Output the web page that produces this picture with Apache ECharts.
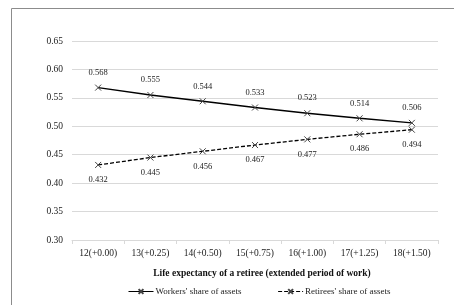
<!DOCTYPE html>
<html>
<head>
<meta charset="utf-8">
<script src="https://cdn.jsdelivr.net/npm/echarts@6/dist/echarts.min.js"></script>
<style>
  html, body { margin: 0; padding: 0; background: #fff; }
  #main { width: 454px; height: 305px; }
</style>
</head>
<body>
<div id="main"></div>
<script>
var categories = ['12(+0.00)', '13(+0.25)', '14(+0.50)', '15(+0.75)', '16(+1.00)', '17(+1.25)', '18(+1.50)'];
var workers = [0.568, 0.555, 0.544, 0.533, 0.523, 0.514, 0.506];
var retirees = [0.432, 0.445, 0.456, 0.467, 0.477, 0.486, 0.494];

var font = 'Liberation Serif';
var cross = 'path://M0,0L10,10M10,0L0,10';

var chartDom = document.getElementById('main');
var myChart = echarts.init(chartDom);

var option = {
  animation: false,
  textStyle: { fontFamily: font },
  graphic: [
    {
      type: 'polyline',
      shape: { points: [[11.5, 310], [11.5, 8.5], [460, 8.5]] },
      style: { fill: 'none', stroke: '#8c8c8c', lineWidth: 1 },
      silent: true
    }
  ],
  grid: { left: 72, right: 16, top: 41, bottom: 65 },
  legend: {
    top: 282,
    left: 123,
    itemGap: 36,
    itemWidth: 25,
    itemHeight: 6,
    lineStyle: { width: 1 },
    textStyle: { fontFamily: font, fontSize: 9, color: '#222', padding: [0, 0, 0, -3] },
    data: ["Workers' share of assets", "Retirees' share of assets"]
  },
  xAxis: {
    type: 'category',
    data: categories,
    name: 'Life expectancy of a retiree (extended period of work)',
    nameLocation: 'middle',
    nameGap: 29,
    nameTextStyle: { fontFamily: font, fontSize: 9.5, fontWeight: 'bold', color: '#111', padding: [0, 0, 0, 14] },
    axisLine: { lineStyle: { color: '#d9d9d9' } },
    axisTick: { show: true, length: 4, lineStyle: { color: '#d9d9d9' } },
    axisLabel: { interval: 0, fontFamily: font, fontSize: 9.5, color: '#222', margin: 8 }
  },
  yAxis: {
    type: 'value',
    min: 0.30,
    max: 0.65,
    interval: 0.05,
    axisLine: { show: false },
    axisTick: { show: false },
    axisLabel: {
      fontFamily: font, fontSize: 9.5, color: '#222', margin: 9,
      formatter: function (v) { return v.toFixed(2); }
    },
    splitLine: { lineStyle: { color: '#d9d9d9' } }
  },
  series: [
    {
      name: "Workers' share of assets",
      type: 'line',
      data: workers,
      symbol: cross,
      symbolSize: 6,
      lineStyle: { color: '#000', width: 1.5 },
      itemStyle: { color: '#000', borderColor: '#444', borderWidth: 1 },
      label: {
        show: true, position: 'top', distance: 7,
        fontFamily: font, fontSize: 8.5, color: '#222',
        formatter: function (p) { return p.value.toFixed(3); }
      }
    },
    {
      name: "Retirees' share of assets",
      type: 'line',
      data: retirees,
      symbol: cross,
      symbolSize: 6,
      lineStyle: { color: '#000', width: 1.3, type: [4, 2] },
      itemStyle: { color: '#000', borderColor: '#444', borderWidth: 1 },
      label: {
        show: true, position: 'bottom', distance: 7,
        fontFamily: font, fontSize: 8.5, color: '#222',
        formatter: function (p) { return p.value.toFixed(3); }
      }
    }
  ]
};

option && myChart.setOption(option);
</script>
</body>
</html>
